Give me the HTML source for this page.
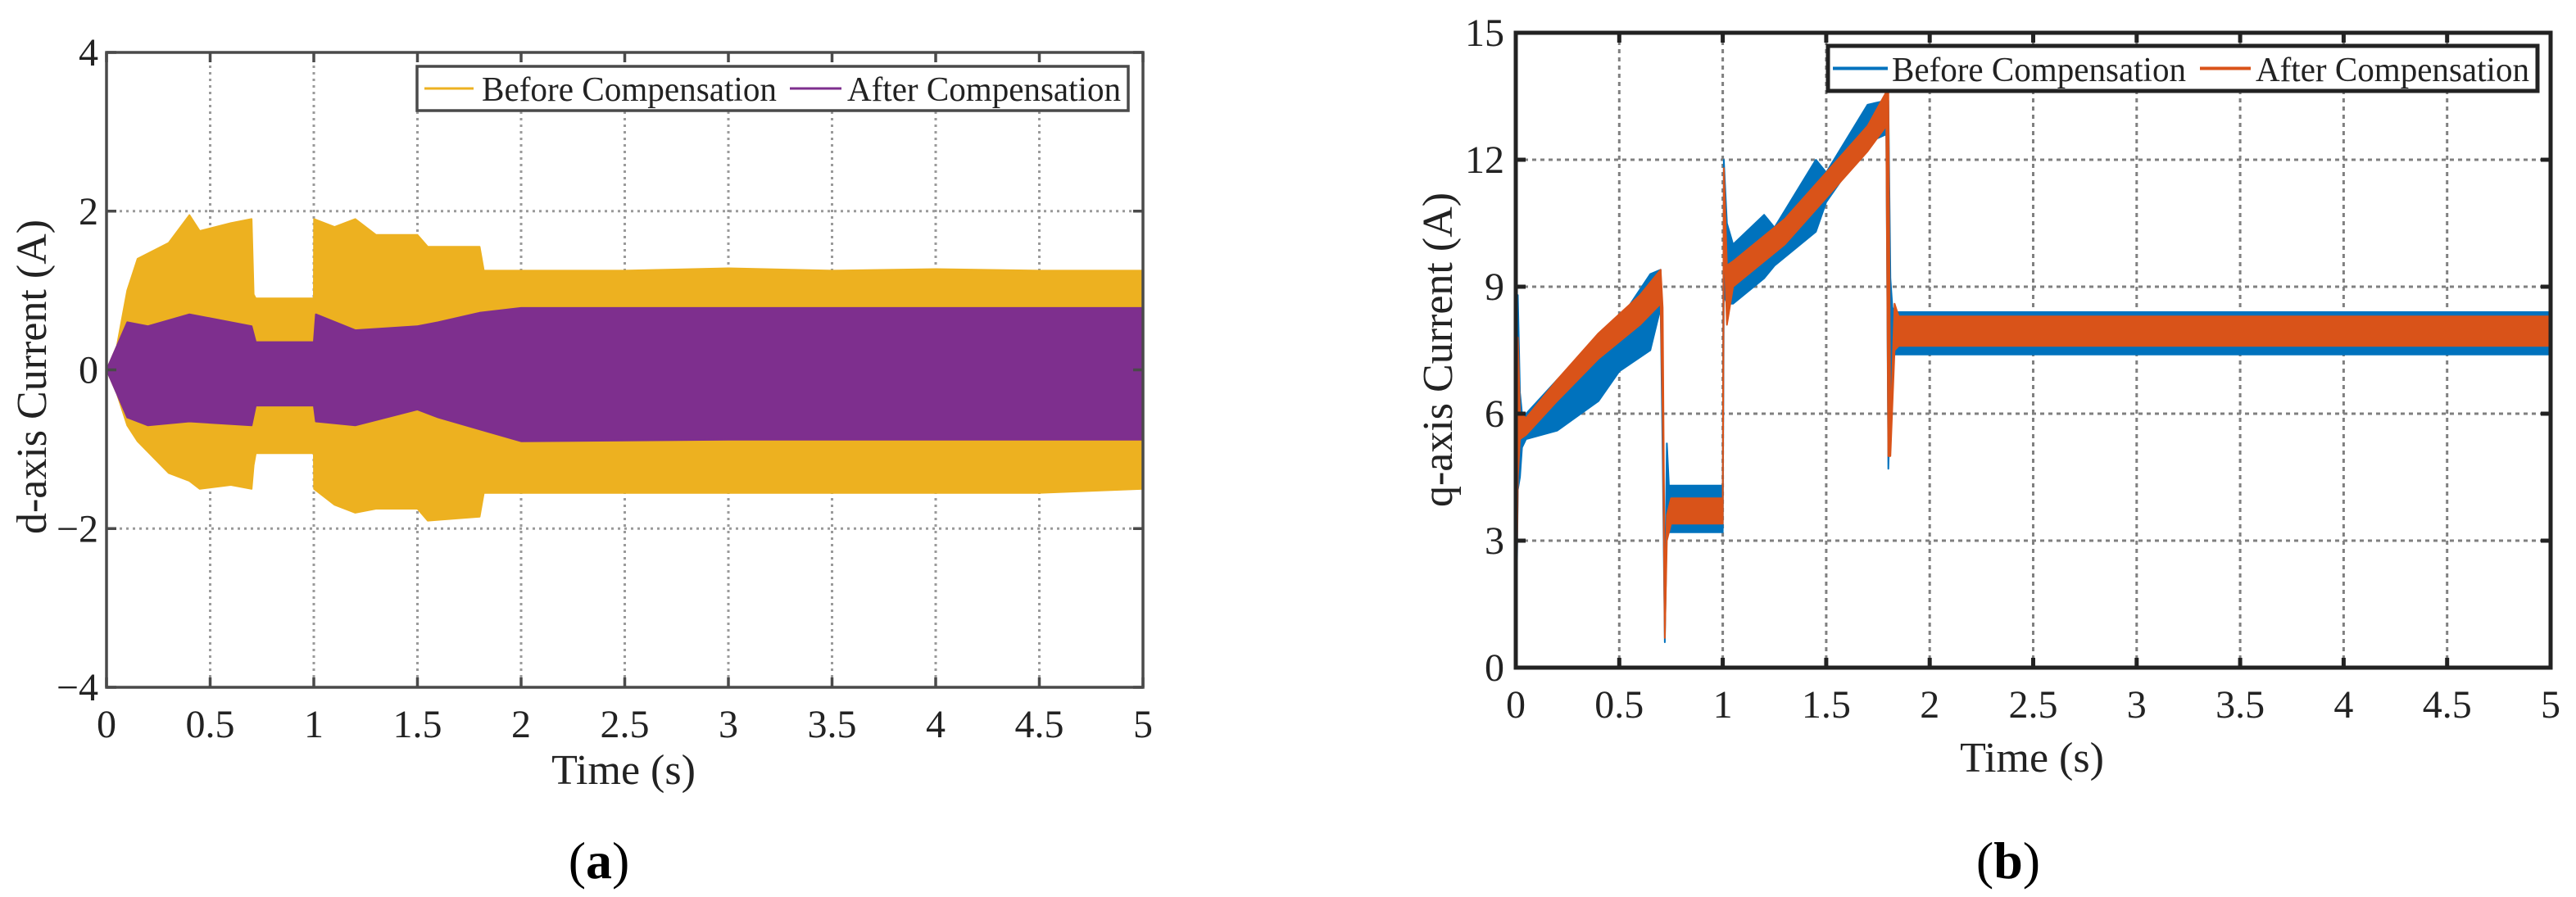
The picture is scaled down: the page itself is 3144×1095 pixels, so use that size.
<!DOCTYPE html>
<html><head><meta charset="utf-8">
<style>
html,body{margin:0;padding:0;background:#fff;}
svg{display:block;}
svg text{font-family:"Liberation Serif","Times New Roman",serif;}
</style></head>
<body>
<svg id="fig" width="3144" height="1095" viewBox="0 0 3144 1095" xmlns="http://www.w3.org/2000/svg" font-family="Liberation Serif, serif">
<g id="chartA"></g>
<g id="chartB"></g>
</svg>
<script>
// ---- Chart (a): d-axis current ----
const aTicksX = [0,0.5,1,1.5,2,2.5,3,3.5,4,4.5,5];
const aTickLabelsX = ["0","0.5","1","1.5","2","2.5","3","3.5","4","4.5","5"];
const aTicksY = [-4,-2,0,2,4];
const aTickLabelsY = ["\u22124","\u22122","0","2","4"];
const aBeforeT = [0,0.05,0.1,0.15,0.3,0.4,0.45,0.6,0.7,0.71,0.72,1.0,1.001,1.1,1.2,1.3,1.5,1.55,1.8,1.82,2.5,3,3.5,4,4.5,5];
const aBeforeUp = [0,0.3,1.0,1.4,1.6,1.95,1.75,1.85,1.9,0.95,0.9,0.9,1.9,1.8,1.9,1.7,1.7,1.55,1.55,1.25,1.25,1.28,1.25,1.27,1.25,1.25];
const aBeforeLo = [0,-0.3,-0.7,-0.9,-1.3,-1.4,-1.5,-1.45,-1.5,-1.2,-1.05,-1.05,-1.5,-1.7,-1.8,-1.75,-1.75,-1.9,-1.85,-1.55,-1.55,-1.55,-1.55,-1.55,-1.55,-1.5];
const aAfterT = [0,0.1,0.2,0.4,0.7,0.72,1.0,1.01,1.2,1.5,1.6,1.8,2.0,3,4,5];
const aAfterUp = [0,0.6,0.55,0.7,0.55,0.35,0.35,0.7,0.5,0.55,0.6,0.72,0.78,0.78,0.78,0.78];
const aAfterLo = [0,-0.6,-0.7,-0.65,-0.7,-0.45,-0.45,-0.65,-0.7,-0.5,-0.6,-0.75,-0.9,-0.88,-0.88,-0.88];

// ---- Chart (b): q-axis current ----
const bTicksX = [0,0.5,1,1.5,2,2.5,3,3.5,4,4.5,5];
const bTickLabelsX = ["0","0.5","1","1.5","2","2.5","3","3.5","4","4.5","5"];
const bTicksY = [0,3,6,9,12,15];
const bTickLabelsY = ["0","3","6","9","12","15"];
const bBeforeT = [0,0.01,0.02,0.03,0.05,0.2,0.4,0.5,0.65,0.7,0.71,0.72,0.73,0.74,0.76,1.0,1.005,1.02,1.05,1.2,1.25,1.45,1.5,1.7,1.79,1.8,1.81,1.82,1.84,5];
const bBeforeUp = [0,8.8,6.5,6.0,6.0,6.8,7.8,8.2,9.3,9.4,7,1.5,5.3,4.3,4.3,4.3,12.0,10.5,10.0,10.7,10.4,12.0,11.7,13.3,13.4,13.4,9.2,8.5,8.4,8.4];
const bBeforeLo = [0,4.2,4.5,5.2,5.4,5.6,6.3,7.0,7.5,8.5,5,0.6,3.5,3.2,3.2,3.2,8.8,8.6,8.6,9.2,9.5,10.3,11.0,12.4,12.6,4.7,6.5,7.4,7.4,7.4];
const bAfterT = [0,0.01,0.02,0.05,0.2,0.4,0.6,0.7,0.71,0.72,0.73,0.75,1.0,1.005,1.02,1.05,1.3,1.5,1.7,1.79,1.8,1.81,1.83,1.85,5];
const bAfterUp = [0,7.8,6.0,5.9,6.8,7.9,8.8,9.4,8.5,1.5,3.6,4.0,4.0,11.8,9.5,9.6,10.6,11.7,12.8,13.6,13.6,5.5,8.6,8.3,8.3];
const bAfterLo = [0,4.5,5.4,5.5,6.3,7.3,8.1,8.6,6,0.7,3.0,3.4,3.4,10.5,8.1,9.0,10.0,11.1,12.2,12.8,5.0,5.0,7.5,7.6,7.6];

const NS = "http://www.w3.org/2000/svg";
const FONT = "Liberation Serif, serif";
function mk(parent, tag, attrs, txt){
  const e = document.createElementNS(NS, tag);
  for (const k in attrs) e.setAttribute(k, attrs[k]);
  if (tag === "text") e.setAttribute("font-family", FONT);
  if (txt !== undefined) e.textContent = txt;
  parent.appendChild(e);
  return e;
}
function scale(d0,d1,r0,r1){ return v => r0 + (v-d0)/(d1-d0)*(r1-r0); }
function bandPath(T,U,L,sx,sy){
  let d = "";
  for (let i=0;i<T.length;i++) d += (i?"L":"M")+sx(T[i]).toFixed(1)+","+sy(U[i]).toFixed(1);
  for (let i=T.length-1;i>=0;i--) d += "L"+sx(T[i]).toFixed(1)+","+sy(L[i]).toFixed(1);
  return d+"Z";
}

function drawChart(g, cfg){
  const sx = scale(0,5,cfg.L,cfg.R), sy = scale(cfg.ymin,cfg.ymax,cfg.B,cfg.T);
  cfg.ticksX.forEach((t,i)=>{
    if (i>0 && i<cfg.ticksX.length-1){
      const l = mk(g,"line",{x1:sx(t),x2:sx(t),y1:cfg.T,y2:cfg.B,stroke:cfg.gridColor,"stroke-width":cfg.gridW,"stroke-dasharray":cfg.dash});
      
      
    }
  });
  cfg.ticksY.forEach((v,i)=>{
    if (i>0 && i<cfg.ticksY.length-1){
      const l = mk(g,"line",{x1:cfg.L,x2:cfg.R,y1:sy(v),y2:sy(v),stroke:cfg.gridColor,"stroke-width":cfg.gridW,"stroke-dasharray":cfg.dash});
      
      
    }
  });
  cfg.series.forEach(s=>{
    const p = mk(g,"path",{d:bandPath(s.t,s.up,s.lo,sx,sy),fill:s.color,stroke:s.color,"stroke-width":2,"stroke-linejoin":"round"});
    
    
  });
  const box = mk(g,"rect",{x:cfg.L,y:cfg.T,width:cfg.R-cfg.L,height:cfg.B-cfg.T,fill:"none",stroke:cfg.axisColor,"stroke-width":cfg.axisW});
  
  
  cfg.ticksX.forEach((t,i)=>{
    mk(g,"line",{x1:sx(t),x2:sx(t),y1:cfg.B,y2:cfg.B-12,stroke:cfg.axisColor,"stroke-width":cfg.axisW});
    mk(g,"line",{x1:sx(t),x2:sx(t),y1:cfg.T,y2:cfg.T+12,stroke:cfg.axisColor,"stroke-width":cfg.axisW});
    const tx = mk(g,"text",{x:sx(t),y:cfg.xLabY,"font-size":cfg.fs,"text-anchor":"middle",fill:"#222"},cfg.labX[i]);
    
    
  });
  cfg.ticksY.forEach((v,i)=>{
    mk(g,"line",{x1:cfg.L,x2:cfg.L+12,y1:sy(v),y2:sy(v),stroke:cfg.axisColor,"stroke-width":cfg.axisW});
    mk(g,"line",{x1:cfg.R,x2:cfg.R-12,y1:sy(v),y2:sy(v),stroke:cfg.axisColor,"stroke-width":cfg.axisW});
    const ty = mk(g,"text",{x:cfg.L-cfg.yLabGap,y:sy(v)+16,"font-size":cfg.fs,"text-anchor":"end",fill:"#222"},cfg.labY[i]);
    
    
  });
  const xt = mk(g,"text",{x:cfg.xTitle[0],y:cfg.xTitle[1],"font-size":cfg.fs+4,"text-anchor":"middle",fill:"#222"},"Time (s)");
  
  
  const yt = mk(g,"text",{x:0,y:0,"font-size":cfg.fs+4,"text-anchor":"middle",fill:"#222",transform:`translate(${cfg.yTitle[0]},${cfg.yTitle[1]}) rotate(-90)`},cfg.yTitleText);
  
  
  const cap = mk(g,"text",{x:cfg.cap[0],y:cfg.cap[1],"font-size":64,"text-anchor":"middle",fill:"#000"});
  
  
  mk(cap,"tspan",{},"(");
  mk(cap,"tspan",{"font-weight":"bold"},cfg.capLetter);
  mk(cap,"tspan",{},")");
  const lg = mk(g,"g",{});
  
  
  const lb = cfg.legend;
  mk(lg,"rect",{x:lb.x,y:lb.y,width:lb.w,height:lb.h,fill:"#fff",stroke:cfg.axisColor,"stroke-width":cfg.axisW});
  lb.items.forEach(it=>{
    const e = mk(lg,"g",{});
    
    
    mk(e,"line",{x1:it.l0,x2:it.l1,y1:lb.y+lb.h/2,y2:lb.y+lb.h/2,stroke:it.color,"stroke-width":lb.lw});
    mk(e,"text",{x:it.tx,y:lb.base,"font-size":lb.fs,textLength:it.tw,lengthAdjust:"spacingAndGlyphs",fill:"#222"},it.label);
  });
}

drawChart(document.getElementById("chartA"),{
  L:130,R:1395,T:64,B:839,ymin:-4,ymax:4,
  ticksX:aTicksX,labX:aTickLabelsX,ticksY:aTicksY,labY:aTickLabelsY,
  gridColor:"#9a9a9a",gridW:3,dash:"3,5",axisColor:"#4a4a4a",axisW:3.5,
  fs:48,xLabY:900,yLabGap:10,
  xTitle:[761,957],yTitle:[56,460],yTitleText:"d-axis Current (A)",
  cap:[731,1072],capLetter:"a",
  series:[
    {name:"before-compensation-band",t:aBeforeT,up:aBeforeUp,lo:aBeforeLo,color:"#EDB120"},
    {name:"after-compensation-band",t:aAfterT,up:aAfterUp,lo:aAfterLo,color:"#7E2F8E"}
  ],
  legend:{x:509,y:81,w:868,h:54,fs:42,base:123,lw:3,items:[
    {l0:518,l1:578,tx:588,tw:360,color:"#EDB120",label:"Before Compensation"},
    {l0:964,l1:1027,tx:1034,tw:334,color:"#7E2F8E",label:"After Compensation"}
  ]}
});

drawChart(document.getElementById("chartB"),{
  L:1850,R:3113,T:40,B:815,ymin:0,ymax:15,
  ticksX:bTicksX,labX:bTickLabelsX,ticksY:bTicksY,labY:bTickLabelsY,
  gridColor:"#808080",gridW:3,dash:"5,5",axisColor:"#222",axisW:5,
  fs:48,xLabY:876,yLabGap:14,
  xTitle:[2480,942],yTitle:[1772,427],yTitleText:"q-axis Current (A)",
  cap:[2451,1072],capLetter:"b",
  series:[
    {name:"before-compensation-band",t:bBeforeT,up:bBeforeUp,lo:bBeforeLo,color:"#0072BD"},
    {name:"after-compensation-band",t:bAfterT,up:bAfterUp,lo:bAfterLo,color:"#D95319"}
  ],
  legend:{x:2231,y:56,w:866,h:55,fs:42,base:99,lw:4,items:[
    {l0:2237,l1:2304,tx:2309,tw:359,color:"#0072BD",label:"Before Compensation"},
    {l0:2685,l1:2747,tx:2753,tw:334,color:"#D95319",label:"After Compensation"}
  ]}
});
</script>
</body></html>
